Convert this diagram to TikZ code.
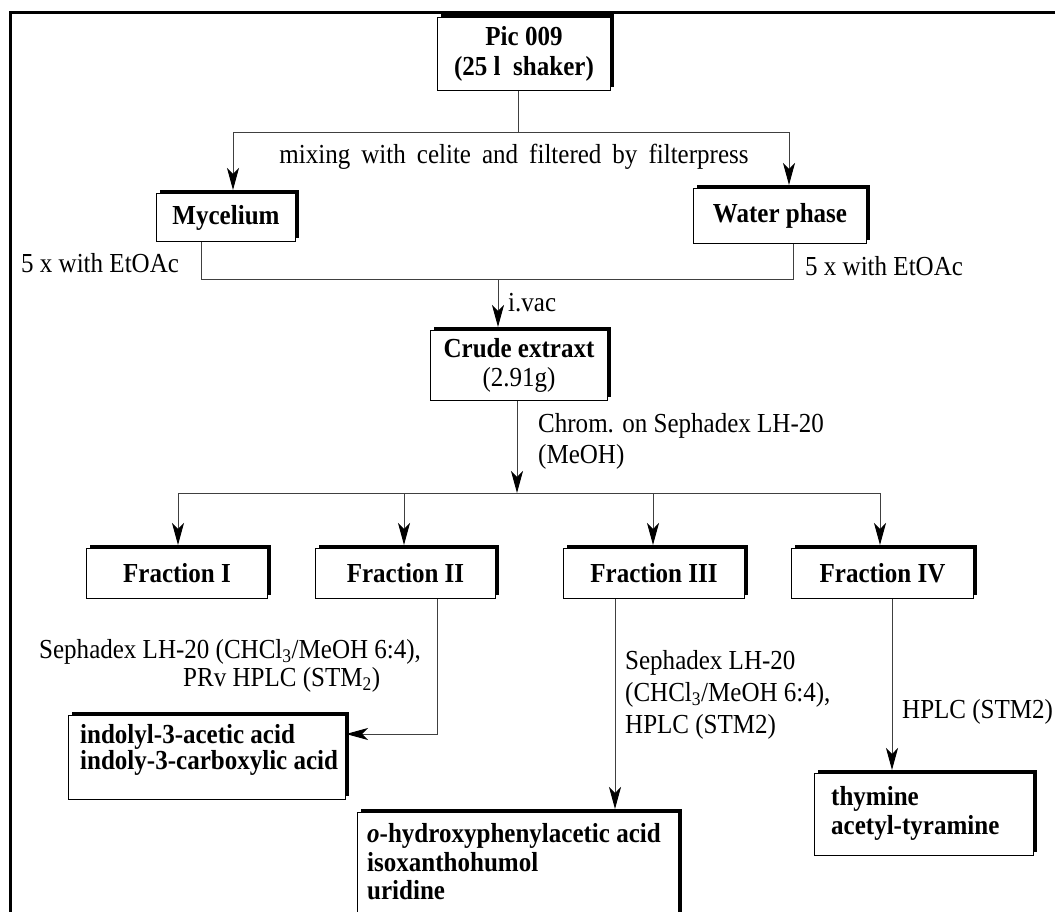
\documentclass[tikz,border=0pt]{standalone}
\usepackage{fontspec}
\setmainfont{Liberation Serif}[FakeStretch=0.91]
\usetikzlibrary{shadows,arrows.meta}
\newcommand{\widespaces}{\spaceskip=11pt plus 2pt\relax}
\begin{document}
\begin{tikzpicture}[x=1pt,y=-1pt,
  font=\fontsize{27.5}{30}\selectfont,
  ln/.style={line width=1pt, draw=black!75},
  arr/.style={ln, -{Stealth[length=22pt,width=12pt,inset=6pt,color=black]}, shorten >=3pt},
  shbox/.style={draw=black, fill=white, line width=1pt, inner sep=0pt, anchor=north west,
    font=\fontsize{27.5}{30}\selectfont\bfseries,
    drop shadow={shadow xshift=3.5pt, shadow yshift=3.5pt, fill=black, opacity=1}},
  lbl/.style={inner sep=0pt}]
\useasboundingbox (0,0) rectangle (1055,912);
\clip (0,0) rectangle (1055,912);
% outer frame
\draw[line width=3pt] (10,930) -- (10,13) -- (1070,13);

% boxes
\node[shbox, minimum width=173, minimum height=73, align=center] (pic) at (437,17) {Pic 009\\(25 l\ \ shaker)};
\node[shbox, minimum width=139, minimum height=48] (myc) at (156,193) {Mycelium\hspace{10pt}};
\node[shbox, minimum width=173, minimum height=55] (wat) at (693,188) {Water phase};
\node[shbox, minimum width=177, minimum height=70, align=center] (crude) at (430,330) {Crude extraxt\\[-1pt]\mdseries(2.91g)};
\node[shbox, minimum width=181, minimum height=50] (fr1) at (86,548) {Fraction I};
\node[shbox, minimum width=180, minimum height=50] (fr2) at (315,548) {Fraction II};
\node[shbox, minimum width=181, minimum height=50] (fr3) at (563,548) {Fraction III};
\node[shbox, minimum width=182, minimum height=50] (fr4) at (791,548) {Fraction IV};
\node[shbox, minimum width=277, minimum height=84] (ind) at (68,715) {};
\node[shbox, minimum width=321, minimum height=104] (hyd) at (357,812) {};
\node[shbox, minimum width=219, minimum height=82] (thy) at (814,773) {};

% box texts
\node[lbl, anchor=west, align=left, font=\fontsize{27.5}{26}\selectfont\bfseries] (indt) at (80,750)
  {indolyl-3-acetic acid\\indoly-3-carboxylic acid};
\node[lbl, anchor=west, align=left, font=\fontsize{27.5}{28.5}\selectfont\bfseries] (hydt) at (367,862)
  {\textit{o}-hydroxyphenylacetic acid\\isoxanthohumol\\uridine};
\node[lbl, anchor=west, align=left, font=\fontsize{27.5}{29}\selectfont\bfseries] (thyt) at (831,813)
  {thymine\\acetyl-tyramine};

% labels
\node[lbl] (mix) at (514,157) {\widespaces mixing with celite and filtered by filterpress};
\node[lbl, anchor=west] (e1) at (21,263) {5 x with EtOAc};
\node[lbl, anchor=west] (e2) at (805,266) {5 x with EtOAc};
\node[lbl, anchor=west] (ivac) at (508,303) {i.vac};
\node[lbl, anchor=west, align=left, font=\fontsize{27.5}{31}\selectfont] (chrom) at (538,441)
  {Chrom. on Sephadex LH-20\\(MeOH)};
\node[lbl, anchor=west] (s2a) at (39,652) {Sephadex LH-20 (CHCl\textsubscript{3}/MeOH 6:4),};
\node[lbl, anchor=west] (s2b) at (183,680) {PRv HPLC (STM\textsubscript{2})};
\node[lbl, anchor=west, align=left, font=\fontsize{27.5}{32}\selectfont] (s3) at (625,695)
  {Sephadex LH-20\\(CHCl\textsubscript{3}/MeOH 6:4),\\HPLC (STM2)};
\node[lbl, anchor=west] (s4) at (902,712) {HPLC (STM2)};

% connector coordinates
\coordinate (j1) at (518,133);
\coordinate (h1l) at (233,133);
\coordinate (h1r) at (789,133);
\coordinate (j2l) at (201,279);
\coordinate (j2r) at (793,279);
\coordinate (j2) at (498,279);
\coordinate (j3) at (517,493);
\coordinate (f1) at (178,493);
\coordinate (f2) at (404,493);
\coordinate (f3) at (653,493);
\coordinate (f4) at (880,493);
\coordinate (c2) at (437,734);
\coordinate (c3) at (615,700);
\coordinate (c4) at (892,700);

% connectors
\draw[ln] (j1 |- pic.south) -- (j1);
\draw[arr] (j1) -| (h1l |- myc.north);
\draw[arr] (j1) -| (h1r |- wat.north);
\draw[ln] (j2l |- myc.south) -- (j2l) -- (j2r) -- (j2r |- wat.south);
\draw[arr] (j2) -- (j2 |- crude.north);
\draw[arr, shorten >=0pt] (j3 |- crude.south) -- (j3);
\draw[ln] (f1) -- (f4);
\draw[arr] (f1) -- (f1 |- fr1.north);
\draw[arr] (f2) -- (f2 |- fr2.north);
\draw[arr] (f3) -- (f3 |- fr3.north);
\draw[arr] (f4) -- (f4 |- fr4.north);
\draw[arr, shorten >=0pt] (c2 |- fr2.south) -- (c2) -- (c2 -| ind.east);
\draw[arr] (c3 |- fr3.south) -- (c3 |- hyd.north);
\draw[arr] (c4 |- fr4.south) -- (c4 |- thy.north);
\end{tikzpicture}
\end{document}
